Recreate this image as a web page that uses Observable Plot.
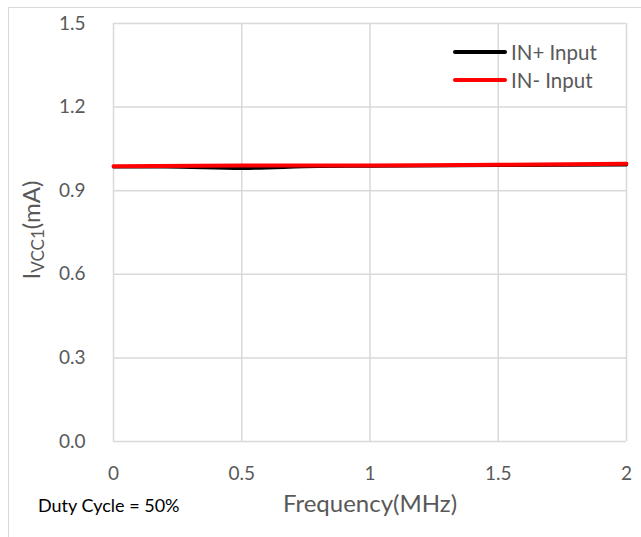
<!DOCTYPE html>
<html>
<head>
<meta charset="utf-8">
<script src="https://cdn.jsdelivr.net/npm/d3@7"></script>
<script src="https://cdn.jsdelivr.net/npm/@observablehq/plot@0.6"></script>
<style>
  html, body { margin: 0; padding: 0; background: #fff; }
  #wrap { position: relative; width: 641px; height: 537px; font-family: Lato, "Open Sans", sans-serif; }
  #border { position: absolute; left: 8px; top: 7px; width: 640px; height: 540px; border: 1.5px solid #d9d9d9; box-sizing: border-box; }
  #legend { position: absolute; left: 453px; top: 38px; color: #595959; font-size: 20.5px; line-height: 28px; }
  #legend .row { display: flex; align-items: center; }
  #legend .sw { width: 54px; height: 4px; border-radius: 2px; margin-right: 4px; }
  svg { position: absolute; left: 0; top: 0; }
</style>
</head>
<body>
<div id="wrap"><div id="border"></div></div>
<script>
const seriesNames = ["IN+ Input", "IN- Input"];
const seriesColors = ["#000000", "#ff0000"];
const freqPlus = [0, 0.2, 0.5, 0.8, 1, 1.5, 2];
const icc1Plus = [0.985, 0.985, 0.98, 0.987, 0.988, 0.99, 0.992];
const freqMinus = [0, 0.5, 1, 1.5, 2];
const icc1Minus = [0.988, 0.99, 0.99, 0.993, 0.997];
const xTicks = [0, 0.5, 1, 1.5, 2];
const yTicks = [0, 0.3, 0.6, 0.9, 1.2, 1.5];

const plus = freqPlus.map((f, i) => ({f, v: icc1Plus[i]}));
const minus = freqMinus.map((f, i) => ({f, v: icc1Minus[i]}));

const chart = Plot.plot({
  width: 641,
  height: 537,
  marginLeft: 113,
  marginRight: 15,
  marginTop: 23,
  marginBottom: 96,
  style: {fontFamily: "Lato, 'Open Sans', sans-serif", fontSize: "19px", color: "#595959", background: "transparent", overflow: "visible"},
  x: {domain: [0, 2], ticks: xTicks, label: null},
  y: {domain: [0, 1.5], ticks: yTicks, label: null},
  marks: [
    Plot.gridX(xTicks, {stroke: "#d9d9d9", strokeOpacity: 1, strokeWidth: 1.5}),
    Plot.gridY(yTicks, {stroke: "#d9d9d9", strokeOpacity: 1, strokeWidth: 1.5}),
    Plot.axisX(xTicks, {tickSize: 0, tickPadding: 25, tickFormat: d => String(d), fill: "#595959", fontSize: 19}),
    Plot.axisY(yTicks, {tickSize: 0, tickPadding: 28, tickFormat: d => d.toFixed(1), fill: "#595959", fontSize: 19}),
    Plot.line(plus, {x: "f", y: "v", stroke: seriesColors[0], strokeWidth: 3, curve: "monotone-x"}),
    Plot.line(minus, {x: "f", y: "v", stroke: seriesColors[1], strokeWidth: 4, curve: "monotone-x"})
  ]
});

const wrap = document.getElementById("wrap");
wrap.appendChild(chart);

const svg = d3.select(chart);
// x-axis title
svg.append("text")
  .attr("x", 370).attr("y", 506)
  .attr("text-anchor", "middle").attr("dominant-baseline", "middle")
  .attr("fill", "#595959").attr("font-size", 24)
  .text("Frequency(MHz)");
// y-axis title with subscript
const yt = svg.append("text")
  .attr("transform", "translate(34,230) rotate(-90)")
  .attr("text-anchor", "middle").attr("dominant-baseline", "middle")
  .attr("fill", "#595959").attr("font-size", 24);
yt.append("tspan").text("I");
yt.append("tspan").attr("font-size", 17).attr("dy", 6).text("VCC1");
yt.append("tspan").attr("dy", -6).text("(mA)");
// note
svg.append("text")
  .attr("x", 38).attr("y", 507)
  .attr("text-anchor", "start").attr("dominant-baseline", "middle")
  .attr("fill", "#000").attr("font-size", 18)
  .text("Duty Cycle = 50%");

// legend
const legend = document.createElement("div");
legend.id = "legend";
seriesNames.forEach((n, i) => {
  const row = document.createElement("div");
  row.className = "row";
  const sw = document.createElement("div");
  sw.className = "sw";
  sw.style.background = seriesColors[i];
  const t = document.createElement("span");
  t.textContent = n;
  row.appendChild(sw); row.appendChild(t);
  legend.appendChild(row);
});
wrap.appendChild(legend);
</script>
</body>
</html>
